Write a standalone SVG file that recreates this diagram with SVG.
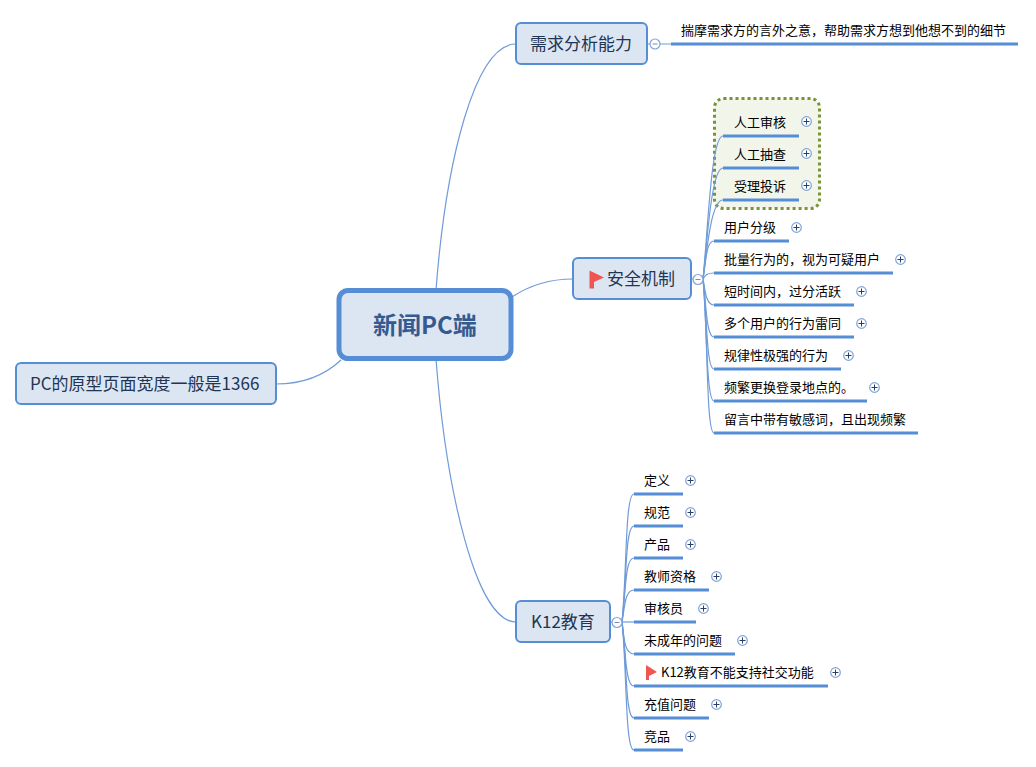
<svg xmlns="http://www.w3.org/2000/svg" width="1036" height="767" viewBox="0 0 1036 767">
<style>
text{font-family:"Noto Sans CJK SC","Noto Sans",sans-serif}
.bg{fill:#fff}
.root{fill:#dce6f3;stroke:#558ed5;stroke-width:5}
.topic{fill:#dce6f3;stroke:#558ed5;stroke-width:2}
.rt{font-size:24px;font-weight:700;fill:#355a8f;text-anchor:middle}
.tt{font-size:17px;fill:#1f3554}
.lt{font-size:13px;fill:#000}
.ul{stroke:#558ed5;stroke-width:3;fill:none}
.c{stroke:#6f9bd8;stroke-width:1.2;fill:none}
.btn{fill:#fff;stroke:#7fa3da;stroke-width:1.2}
.sign{stroke:#2c3f5e;stroke-width:1;fill:none}
.sign2{stroke:#7d8ea8;stroke-width:1;fill:none}
.flag{fill:#f05650}
.sum{fill:#f2f5ea;stroke:#7b9236;stroke-width:3;stroke-dasharray:3 3}
</style>
<defs>
<g id="plus"><circle class="btn" r="4.800"/><path class="sign" d="M-3 0H3M0 -3V3"/></g>
<g id="minus"><circle class="btn" r="5"/><path class="sign2" d="M-2.500 0H2.500"/></g>
</defs>
<rect class="bg" width="1036" height="767"/>
<rect id="summary" class="sum" x="714.500" y="98.500" width="105" height="110" rx="9"/>
<g id="connectors">
<path class="c" d="M436 290C446 160 475 44 516 44"/>
<path class="c" d="M436 359C446 490 476 622 516 622"/>
<path class="c" d="M512 297C530 285 550 279 573 279"/>
<path class="c" d="M341 360C325 375 305 384 276 384"/>
<path class="c" d="M647 44H650M660 44H671"/>
<path class="c" d="M691 279H693M703 279C708 230 711 136 723 136"/>
<path class="c" d="M703 279C707 245 711 168 723 168"/>
<path class="c" d="M703 279C707 250 711 200 723 200"/>
<path class="c" d="M703 279C706 262 706 241 714 241"/>
<path class="c" d="M703 279C705 276 706 273 714 273"/>
<path class="c" d="M703 279C705 290 706 305 714 305"/>
<path class="c" d="M703 279C706 300 706 337 714 337"/>
<path class="c" d="M703 279C707 310 706 369 714 369"/>
<path class="c" d="M703 279C707 320 706 401 714 401"/>
<path class="c" d="M703 279C708 330 706 433 714 433"/>
<path class="c" d="M610 622H612M622 622C627 570 625 494 634 494"/>
<path class="c" d="M622 622C627 580 625 526 634 526"/>
<path class="c" d="M622 622C626 590 625 558 634 558"/>
<path class="c" d="M622 622C625 605 625 590 634 590"/>
<path class="c" d="M622 622H634"/>
<path class="c" d="M622 622C624 640 625 654 634 654"/>
<path class="c" d="M622 622C626 650 625 686 634 686"/>
<path class="c" d="M622 622C627 660 625 718 634 718"/>
<path class="c" d="M622 622C627 670 625 750 634 750"/>
</g>
<g id="root"><rect class="root" x="339" y="290.500" width="172" height="68" rx="9"/><text class="rt" x="425" y="334">新闻PC端</text></g>
<g id="need"><rect class="topic" x="516" y="23" width="131" height="41" rx="5"/><text class="tt" x="530" y="50">需求分析能力</text><use href="#minus" x="655" y="44"/></g>
<g id="need-1"><text class="lt" x="681" y="35">揣摩需求方的言外之意，帮助需求方想到他想不到的细节</text><path class="ul" d="M671 44H1018"/></g>
<g id="security"><rect class="topic" x="573" y="258" width="118" height="41" rx="5"/><path class="flag" d="M589.500 270.500L604 277.500L594 282V288.500H589.500Z"/><text class="tt" x="607" y="285">安全机制</text><use href="#minus" x="698" y="279.500"/></g>
<g id="s1"><text class="lt" x="734" y="127">人工审核</text><path class="ul" d="M723 136H799"/><use href="#plus" x="806.500" y="121.500"/></g>
<g id="s2"><text class="lt" x="734" y="159">人工抽查</text><path class="ul" d="M723 168H799"/><use href="#plus" x="806.500" y="153.500"/></g>
<g id="s3"><text class="lt" x="734" y="191">受理投诉</text><path class="ul" d="M723 200H799"/><use href="#plus" x="806.500" y="185.500"/></g>
<g id="s4"><text class="lt" x="724" y="232">用户分级</text><path class="ul" d="M714 241H789"/><use href="#plus" x="796.500" y="227.500"/></g>
<g id="s5"><text class="lt" x="724" y="264">批量行为的，视为可疑用户</text><path class="ul" d="M714 273H893"/><use href="#plus" x="900.500" y="259.500"/></g>
<g id="s6"><text class="lt" x="724" y="296">短时间内，过分活跃</text><path class="ul" d="M714 305H854"/><use href="#plus" x="861.500" y="291.500"/></g>
<g id="s7"><text class="lt" x="724" y="328">多个用户的行为雷同</text><path class="ul" d="M714 337H854"/><use href="#plus" x="861.500" y="323.500"/></g>
<g id="s8"><text class="lt" x="724" y="360">规律性极强的行为</text><path class="ul" d="M714 369H841"/><use href="#plus" x="848.500" y="355.500"/></g>
<g id="s9"><text class="lt" x="724" y="392">频繁更换登录地点的。</text><path class="ul" d="M714 401H867"/><use href="#plus" x="874.500" y="387.500"/></g>
<g id="s10"><text class="lt" x="724" y="424">留言中带有敏感词，且出现频繁</text><path class="ul" d="M714 433H918"/></g>
<g id="k12"><rect class="topic" x="516" y="601" width="94" height="41" rx="5"/><text class="tt" x="531" y="628">K12教育</text><use href="#minus" x="617" y="622.500"/></g>
<g id="k1"><text class="lt" x="644" y="485">定义</text><path class="ul" d="M634 494H683"/><use href="#plus" x="690.500" y="480.500"/></g>
<g id="k2"><text class="lt" x="644" y="517">规范</text><path class="ul" d="M634 526H683"/><use href="#plus" x="690.500" y="512.500"/></g>
<g id="k3"><text class="lt" x="644" y="549">产品</text><path class="ul" d="M634 558H683"/><use href="#plus" x="690.500" y="544.500"/></g>
<g id="k4"><text class="lt" x="644" y="581">教师资格</text><path class="ul" d="M634 590H709"/><use href="#plus" x="716.500" y="576.500"/></g>
<g id="k5"><text class="lt" x="644" y="613">审核员</text><path class="ul" d="M634 622H696"/><use href="#plus" x="703.500" y="608.500"/></g>
<g id="k6"><text class="lt" x="644" y="645">未成年的问题</text><path class="ul" d="M634 654H735"/><use href="#plus" x="742.500" y="640.500"/></g>
<g id="k7"><path class="flag" d="M646 665L657 672L649 676V680H646Z"/><text class="lt" x="661" y="677">K12教育不能支持社交功能</text><path class="ul" d="M634 686H828"/><use href="#plus" x="835.500" y="672.500"/></g>
<g id="k8"><text class="lt" x="644" y="709">充值问题</text><path class="ul" d="M634 718H709"/><use href="#plus" x="716.500" y="704.500"/></g>
<g id="k9"><text class="lt" x="644" y="741">竞品</text><path class="ul" d="M634 750H683"/><use href="#plus" x="690.500" y="736.500"/></g>
<g id="pc"><rect class="topic" x="16" y="363" width="260" height="41" rx="5"/><text class="tt" x="30" y="390">PC的原型页面宽度一般是1366</text></g>
</svg>
